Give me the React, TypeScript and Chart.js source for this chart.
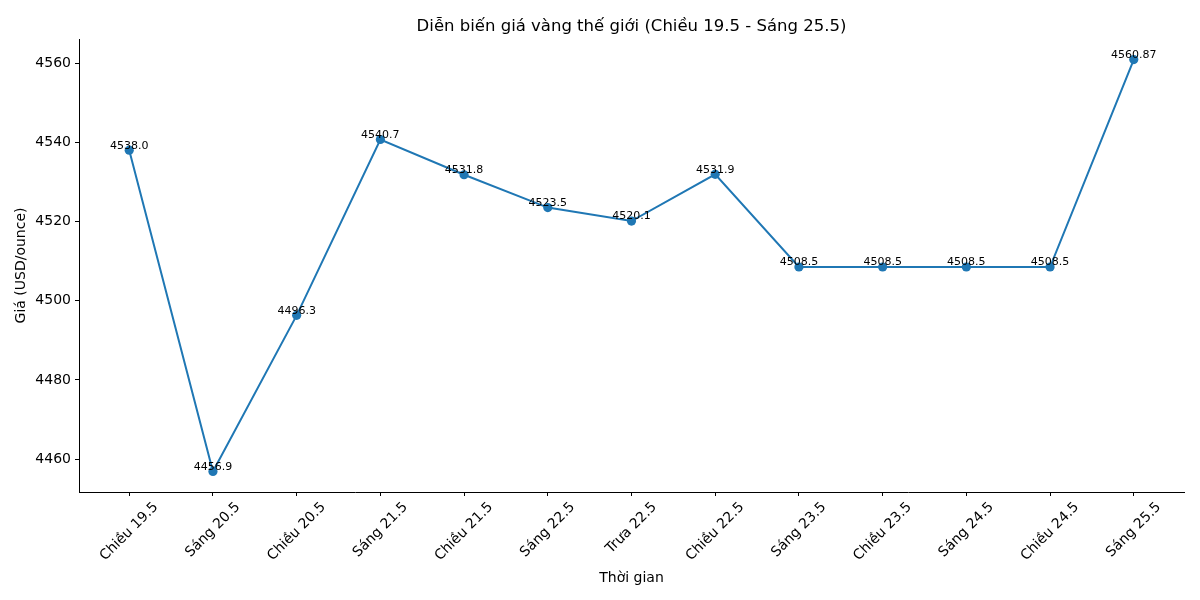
import { useEffect, useRef } from "react"
import { Chart, registerables } from "chart.js"

Chart.register(...registerables)

const categories = [
  "Chiều 19.5",
  "Sáng 20.5",
  "Chiều 20.5",
  "Sáng 21.5",
  "Chiều 21.5",
  "Sáng 22.5",
  "Trưa 22.5",
  "Chiều 22.5",
  "Sáng 23.5",
  "Chiều 23.5",
  "Sáng 24.5",
  "Chiều 24.5",
  "Sáng 25.5",
]
const prices = [4538.0, 4456.9, 4496.3, 4540.7, 4531.8, 4523.5, 4520.1, 4531.9, 4508.5, 4508.5, 4508.5, 4508.5, 4560.87]
const yTicks = [4460, 4480, 4500, 4520, 4540, 4560]

const title = "Diễn biến giá vàng thế giới (Chiều 19.5 - Sáng 25.5)"
const xTitle = "Thời gian"
const yTitle = "Giá (USD/ounce)"

const FONT = "'DejaVu Sans', sans-serif"
const BLUE = "#1f77b4"

const fmt = (v: number) => {
  const s = v.toFixed(2)
  return s.endsWith("0") ? v.toFixed(1) : s
}

// matplotlib-like 5% margins
const lo = Math.min(...prices)
const hi = Math.max(...prices)
const pad = (hi - lo) * 0.05
const xPad = (categories.length - 1) * 0.05

const textPlugin = {
  id: "mplText",
  afterDraw(chart: Chart) {
    const { ctx, chartArea, scales } = chart
    const xs = scales.x
    const ys = scales.y
    ctx.save()
    ctx.fillStyle = "#000"

    // value labels above points
    ctx.font = `11px ${FONT}`
    ctx.textAlign = "center"
    ctx.textBaseline = "bottom"
    prices.forEach((v, i) => {
      ctx.fillText(fmt(v), xs.getPixelForValue(i), ys.getPixelForValue(v) + 1)
    })

    // rotated x tick labels, centered under the tick
    ctx.font = `14px ${FONT}`
    ctx.textBaseline = "middle"
    const top = chartArea.bottom + 8
    categories.forEach((c, i) => {
      const w = ctx.measureText(c).width
      const bh = (w + 14) * Math.SQRT1_2
      ctx.save()
      ctx.translate(xs.getPixelForValue(i), top + bh / 2)
      ctx.rotate(-Math.PI / 4)
      ctx.fillText(c, 0, 0)
      ctx.restore()
    })

    const cx = (chartArea.left + chartArea.right) / 2
    // title
    ctx.font = `16.5px ${FONT}`
    ctx.textBaseline = "alphabetic"
    ctx.fillText(title, cx, 31)

    // axis titles
    ctx.font = `14px ${FONT}`
    ctx.fillText(xTitle, cx, 582)
    ctx.save()
    ctx.translate(25, (chartArea.top + chartArea.bottom) / 2)
    ctx.rotate(-Math.PI / 2)
    ctx.fillText(yTitle, 0, 0)
    ctx.restore()

    ctx.restore()
  },
}

export default function App() {
  const chartRef = useRef<HTMLCanvasElement>(null)
  const chartInstance = useRef<Chart | null>(null)

  useEffect(() => {
    if (!chartRef.current) return
    if (chartInstance.current) chartInstance.current.destroy()
    const ctx = chartRef.current.getContext("2d")
    if (!ctx) return

    chartInstance.current = new Chart(ctx, {
      type: "line",
      data: {
        datasets: [
          {
            data: prices.map((v, i) => ({ x: i, y: v })),
            borderColor: BLUE,
            backgroundColor: BLUE,
            borderWidth: 2,
            pointRadius: 4.6,
            pointBorderWidth: 0,
            pointBackgroundColor: BLUE,
            tension: 0,
          },
        ],
      },
      options: {
        animation: false,
        responsive: true,
        maintainAspectRatio: false,
        layout: { padding: { left: 0, top: 39, right: 16, bottom: 0 } },
        plugins: {
          legend: { display: false },
          tooltip: { enabled: false },
          title: { display: false },
        },
        scales: {
          x: {
            type: "linear",
            min: -xPad,
            max: categories.length - 1 + xPad,
            afterBuildTicks: (scale: any) => {
              scale.ticks = categories.map((_, i) => ({ value: i }))
            },
            afterFit: (scale: any) => {
              scale.height = 108
            },
            ticks: { display: false },
            grid: { drawOnChartArea: false, tickLength: 4, tickColor: "#000", tickWidth: 1 },
            border: { display: true, color: "#000", width: 1 },
          },
          y: {
            type: "linear",
            min: lo - pad,
            max: hi + pad,
            afterBuildTicks: (scale: any) => {
              scale.ticks = yTicks.map((v) => ({ value: v }))
            },
            afterFit: (scale: any) => {
              scale.width = 79
            },
            ticks: {
              color: "#000",
              font: { family: FONT, size: 14 },
              padding: 4,
              callback: (v: any) => String(v),
            },
            grid: { drawOnChartArea: false, tickLength: 4, tickColor: "#000", tickWidth: 1 },
            border: { display: true, color: "#000", width: 1 },
          },
        },
      },
      plugins: [textPlugin],
    })

    return () => {
      if (chartInstance.current) {
        chartInstance.current.destroy()
        chartInstance.current = null
      }
    }
  }, [])

  return (
    <div style={{ position: "absolute", left: 0, top: 0, width: 1200, height: 600, background: "#fff" }}>
      <canvas ref={chartRef} />
    </div>
  )
}
